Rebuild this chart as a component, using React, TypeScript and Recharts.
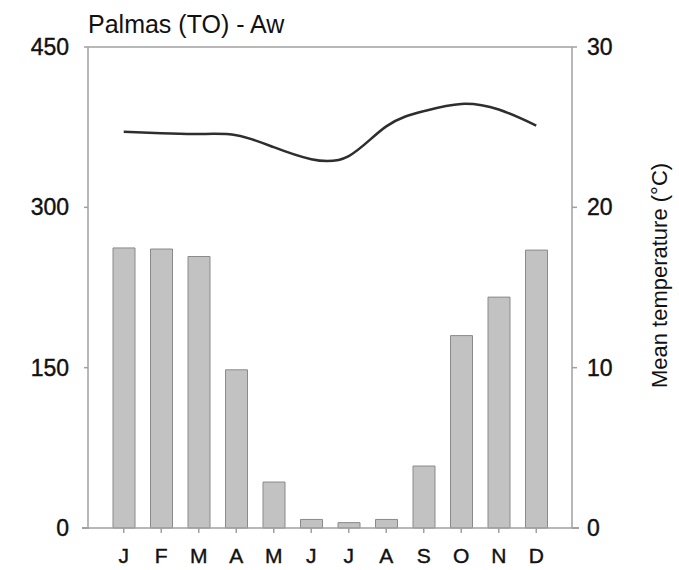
import { ComposedChart, Bar, Line, XAxis, YAxis, ReferenceLine } from "recharts";

const months = ["J", "F", "M", "A", "M", "J", "J", "A", "S", "O", "N", "D"];
const rainfall = [262, 261, 254, 148, 43, 8, 5, 8, 58, 180, 216, 260];
const temperature = [24.72, 24.62, 24.57, 24.5, 23.75, 23.0, 23.2, 25.05, 26.0, 26.45, 26.1, 25.1];
const rainTicks = [0, 150, 300, 450];
const tempTicks = [0, 10, 20, 30];

const data = months.map((m, i) => ({ key: i, month: m, rain: rainfall[i], temp: temperature[i] }));

const FONT = "'Liberation Sans', Arial, sans-serif";
const AXIS = "#a0a0a0";
const tickStyle = { fill: "#111", fontSize: 23, fontFamily: FONT, stroke: "#111", strokeWidth: 0.4 };

export default function App() {
  return (
    <div style={{ position: "absolute", left: 0, top: 0, width: 679, height: 570, background: "#fff", fontFamily: FONT }}>
      <div style={{ position: "absolute", left: 88, top: 10, fontSize: 25, color: "#111", whiteSpace: "nowrap" }}>
        Palmas (TO) - Aw
      </div>
      {/* the base line runs a little past both side axes */}
      <div style={{ position: "absolute", left: 82, top: 527, width: 7, height: 1.5, background: AXIS }} />
      <div style={{ position: "absolute", left: 572, top: 527, width: 7, height: 1.5, background: AXIS }} />
      <ComposedChart width={679} height={570} data={data} margin={{ top: 47, right: 52, bottom: 0, left: 0 }}>
        <XAxis
          dataKey="key"
          tickFormatter={(i: number) => months[i]}
          stroke={AXIS}
          strokeWidth={1.5}
          tickSize={5}
          tickMargin={15}
          height={42}
          interval={0}
          padding={{ left: 17, right: 17 }}
          tick={{ ...tickStyle, fontSize: 21 }}
        />
        <YAxis
          yAxisId="left"
          domain={[0, 450]}
          ticks={rainTicks}
          width={88}
          stroke={AXIS}
          strokeWidth={1.5}
          tickSize={4}
          tickMargin={15}
          tick={tickStyle}
        />
        <YAxis
          yAxisId="right"
          orientation="right"
          domain={[0, 30]}
          ticks={tempTicks}
          width={55}
          stroke={AXIS}
          strokeWidth={1.5}
          tickSize={5}
          tickMargin={10}
          tick={tickStyle}
          label={{
            value: "Mean temperature (°C)",
            angle: -90,
            position: "right",
            offset: 32,
            dy: -12,
            style: { fill: "#111", fontSize: 22, fontFamily: FONT, textAnchor: "middle" },
          }}
        />
        <ReferenceLine yAxisId="left" y={450} stroke={AXIS} strokeWidth={1.5} />
        <Bar
          yAxisId="left"
          dataKey="rain"
          fill="#c2c2c2"
          stroke="#8a8a8a"
          strokeWidth={1}
          barSize={22}
          isAnimationActive={false}
        />
        <Line
          yAxisId="right"
          dataKey="temp"
          type="natural"
          stroke="#2e2e2e"
          strokeWidth={2.5}
          dot={false}
          isAnimationActive={false}
        />
      </ComposedChart>
    </div>
  );
}
